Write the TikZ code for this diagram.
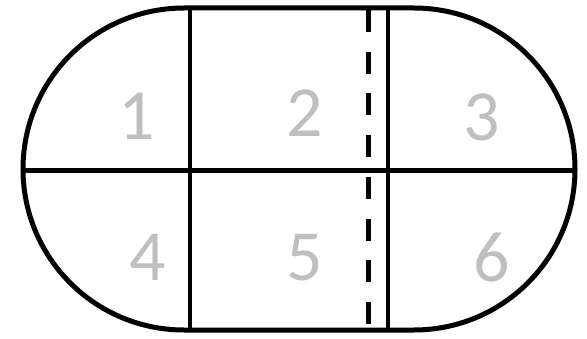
\documentclass[tikz,border=0pt]{standalone}
\usepackage{fontspec}
\setmainfont{Carlito}
\definecolor{digitgray}{RGB}{191,191,191}
\begin{document}
\begin{tikzpicture}[x=1pt,y=1pt,
  outline/.style={line width=5pt,draw=black},
  divider/.style={line width=4.5pt,draw=black},
  dashdiv/.style={line width=5pt,draw=black,dash pattern=on 22pt off 19.7pt},
  digit/.style={text=digitgray,inner sep=0pt,font=\fontsize{72}{72}\selectfont}]
\useasboundingbox (0,0) rectangle (587,338);
% stadium outline
\draw[outline] (184,330) -- (414,330) arc[start angle=90,end angle=-90,radius=161]
  -- (184,8) arc[start angle=270,end angle=90,radius=161] -- cycle;
% named points for the dividers
\coordinate (hl) at (23,167.5);
\coordinate (hr) at (575,167.5);
\coordinate (v1t) at (190,330);
\coordinate (v1b) at (190,8);
\coordinate (v2t) at (388,330);
\coordinate (v2b) at (388,8);
\coordinate (dt) at (368,328);
\coordinate (db) at (368,13);
\draw[divider] (hl) -- (hr);
\draw[divider] (v1t) -- (v1b);
\draw[divider] (v2t) -- (v2b);
\draw[dashdiv] (dt) -- (db);
% labels
\node[digit] (n1) at (137,222) {1};
\node[digit] (n2) at (305,225) {2};
\node[digit] (n3) at (482,221) {3};
\node[digit] (n4) at (148,81) {4};
\node[digit] (n5) at (305,80) {5};
\node[digit] (n6) at (492,81) {6};
\end{tikzpicture}
\end{document}
